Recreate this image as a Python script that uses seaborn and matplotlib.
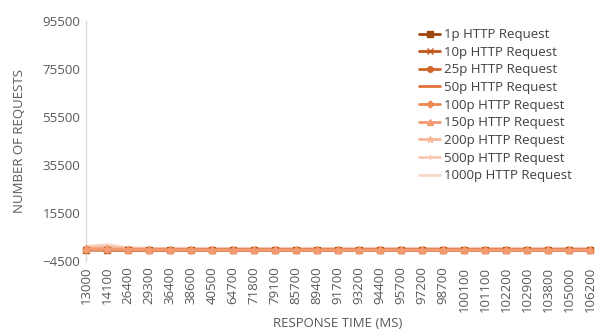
import matplotlib
matplotlib.use("Agg")
import matplotlib.pyplot as plt
import seaborn as sns
import pandas as pd

response_times = ["13000", "14100", "26400", "29300", "36400", "38600", "40500",
                  "64700", "71800", "79100", "85700", "89400", "91700", "93200",
                  "94400", "95700", "97200", "98700", "100100", "101100", "102200",
                  "102900", "103800", "105000", "106200"]

req_1p = [120, 80, 60, 40, 30, 20, 20, 10, 10, 10, 10, 10, 10, 10, 10, 10, 10, 10, 10, 10, 10, 10, 10, 10, 10]
req_10p = [180, 120, 90, 60, 40, 30, 20, 20, 10, 10, 10, 10, 10, 10, 10, 10, 10, 10, 10, 10, 10, 10, 10, 10, 10]
req_25p = [250, 160, 110, 80, 60, 40, 30, 20, 20, 10, 10, 10, 10, 10, 10, 10, 10, 10, 10, 10, 10, 10, 10, 10, 10]
req_50p = [320, 220, 150, 100, 70, 50, 40, 30, 20, 20, 10, 10, 10, 10, 10, 10, 10, 10, 10, 10, 10, 10, 10, 10, 10]
req_100p = [420, 300, 200, 140, 100, 70, 50, 40, 30, 20, 20, 20, 10, 10, 10, 10, 10, 10, 10, 10, 10, 10, 10, 10, 10]
req_150p = [560, 420, 280, 180, 120, 90, 60, 50, 40, 30, 20, 20, 20, 10, 10, 10, 10, 10, 10, 10, 10, 10, 10, 10, 10]
req_200p = [900, 1000, 700, 600, 550, 500, 500, 500, 500, 500, 500, 500, 500, 500, 500, 500, 500, 500, 500, 500, 500, 500, 500, 500, 500]
req_500p = [1300, 1600, 900, 700, 650, 600, 600, 600, 600, 600, 600, 600, 600, 600, 600, 600, 600, 600, 600, 600, 600, 600, 600, 600, 600]
req_1000p = [1700, 2300, 1100, 800, 700, 650, 650, 650, 650, 650, 650, 650, 650, 650, 650, 650, 650, 650, 650, 650, 650, 650, 650, 650, 650]

series_names = ["1p HTTP Request", "10p HTTP Request", "25p HTTP Request",
                "50p HTTP Request", "100p HTTP Request", "150p HTTP Request",
                "200p HTTP Request", "500p HTTP Request", "1000p HTTP Request"]
series_values = [req_1p, req_10p, req_25p, req_50p, req_100p, req_150p,
                 req_200p, req_500p, req_1000p]

colors = ["#9E480E", "#C0561A", "#D2652A", "#E2733A", "#ED8A4F",
          "#F29B72", "#F5B69A", "#F8C9B3", "#FAD9C9"]
markers = ["s", "x", "o", "_", "D", "^", "*", "+", ""]
marker_sizes = [4, 4, 4, 5, 3.5, 4, 5, 5, 0]
# pale series sit underneath, the 150p line is drawn on top as the widest band
zorders = [3, 3.1, 3.2, 3.3, 3.4, 3.5, 2.9, 2.8, 2.7]
widths = [2.5, 2.5, 2.5, 2.5, 2.5, 5.5, 2.0, 2.0, 2.5]

plt.rcParams["font.family"] = ["Open Sans", "DejaVu Sans"]
sns.set_style("white")
plt.rcParams["font.family"] = ["Open Sans", "DejaVu Sans"]

fig = plt.figure(figsize=(6.04, 3.36), dpi=100)
ax = fig.add_axes([86 / 604, 1 - 261 / 336, (590 - 86) / 604, (261 - 21) / 336])

for name, vals, c, m, ms, z, lw in zip(series_names, series_values, colors, markers,
                                        marker_sizes, zorders, widths):
    df = pd.DataFrame({"time": response_times, "count": vals})
    sns.lineplot(data=df, x="time", y="count", ax=ax, color=c, marker=m if m else None,
                 markersize=ms, linewidth=lw, label=name, sort=False,
                 markeredgecolor=c, markeredgewidth=1, zorder=z, clip_on=False)

ax.set_xlim(0, len(response_times) - 1)
ax.set_ylim(-4500, 95500)
ax.set_yticks(range(-4500, 95501, 20000))
ax.tick_params(axis="both", length=0, labelsize=9.5, colors="#595959", pad=4)
ax.tick_params(axis="x", rotation=90)
ax.set_xlabel("RESPONSE TIME (MS)", fontsize=9.5, color="#595959", labelpad=4)
ax.set_ylabel("NUMBER OF REQUESTS", fontsize=9.5, color="#595959", labelpad=12)

for s in ["top", "right", "bottom"]:
    ax.spines[s].set_visible(False)
ax.spines["left"].set_color("#D9D9D9")
ax.spines["left"].set_linewidth(1)

handles, labels = ax.get_legend_handles_labels()
for h, lw in zip(handles, widths):
    h.set_linewidth(2.0)
leg = ax.legend(handles, labels, loc="upper left", bbox_to_anchor=(326 / 504, 1.0),
                frameon=False, fontsize=9.5, labelspacing=0.35, handlelength=1.6,
                handletextpad=0.3, borderaxespad=0.15)
for t in leg.get_texts():
    t.set_color("#404040")

fig.savefig("out.png", dpi=100)
